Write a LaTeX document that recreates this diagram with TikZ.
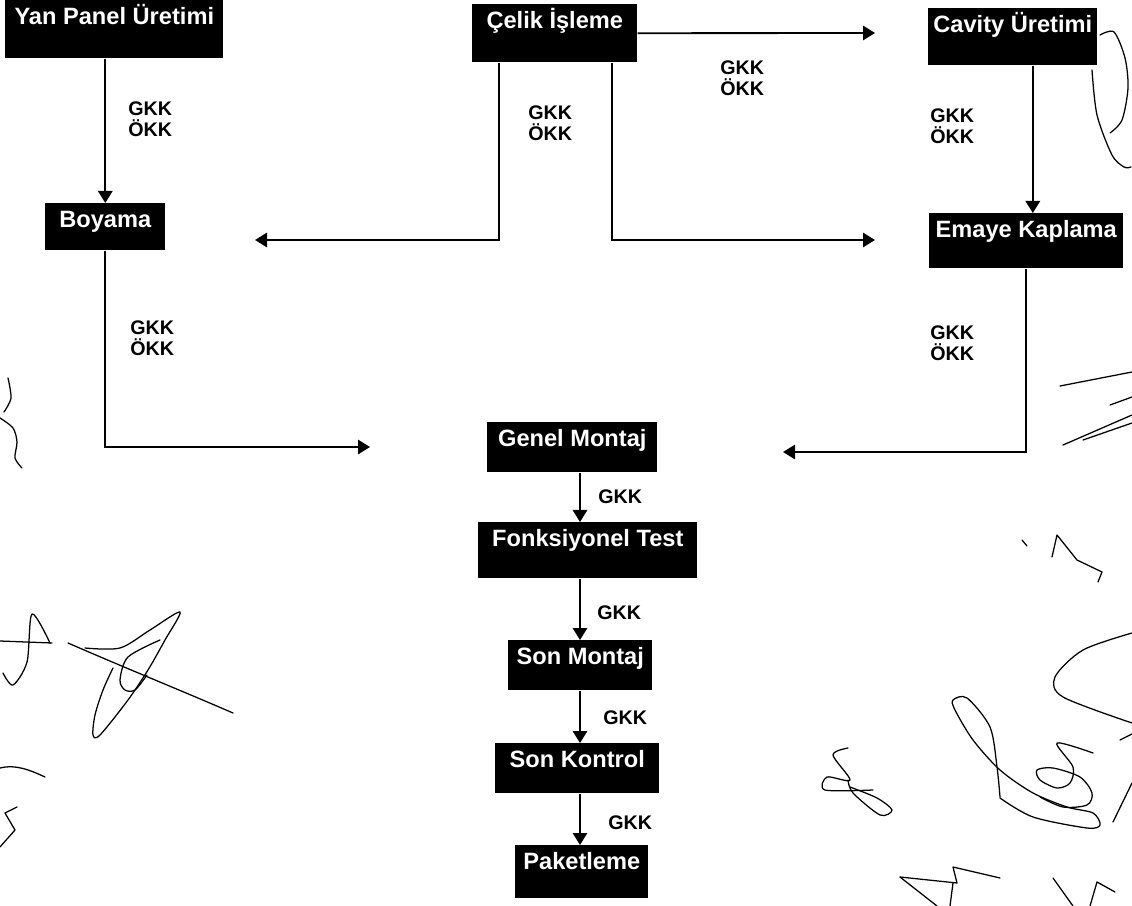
\documentclass[tikz,border=0pt]{standalone}
\usepackage{fontspec}
\setmainfont{Liberation Sans}
\usetikzlibrary{arrows.meta}

\begin{document}
\begin{tikzpicture}[
  x=0.025cm, y=-0.025cm,
  block/.style={rectangle, fill=black, text=white, anchor=north west, inner xsep=0pt, inner ysep=0pt, text height=0.6cm, font=\bfseries\fontsize{16.8}{18}\selectfont},
  lbl/.style={anchor=north west, inner sep=0pt, align=left, font=\bfseries\fontsize{14}{15.6}\selectfont},
  arrow/.style={line width=1.3pt, -{Triangle[length=0.3cm,width=0.36cm]}},
  sign/.style={line width=0.9pt, line cap=round, line join=round}
]
\useasboundingbox (0,0) rectangle (1132,906);

% Blocks
\node[block, minimum width=5.45cm, text depth=0.85cm] (yanpanel) at (5,0) {Yan Panel Üretimi};
\node[block, minimum width=3cm, text depth=0.575cm] (boyama) at (45,203) {Boyama};
\node[block, minimum width=4.125cm, text depth=0.85cm] (celik) at (472,4) {Çelik İşleme};
\node[block, minimum width=4.225cm, text depth=0.825cm] (cavity) at (928,8) {Cavity Üretimi};
\node[block, minimum width=4.85cm, text depth=0.775cm] (emaye) at (929,213) {Emaye Kaplama};
\node[block, minimum width=4.25cm, text depth=0.65cm] (genel) at (487,422) {Genel Montaj};
\node[block, minimum width=5.475cm, text depth=0.8cm] (fonksiyonel) at (478,522) {Fonksiyonel Test};
\node[block, minimum width=3.6cm, text depth=0.65cm] (sonmontaj) at (508,640) {Son Montaj};
\node[block, minimum width=4.1cm, text depth=0.65cm] (sonkontrol) at (495,743) {Son Kontrol};
\node[block, minimum width=3.325cm, text depth=0.725cm] (paketleme) at (515,845) {Paketleme};

% Free arrow ends
\coordinate (boyama-in) at (255,240);
\coordinate (emaye-in) at (875,240);
\coordinate (cavity-in) at (875,33);
\coordinate (genel-left) at (370,447);
\coordinate (genel-right) at (783,452);
\coordinate (axis) at (580,0);

% Arrows
\draw[arrow] (yanpanel.south -| boyama) -- (boyama);
\draw[arrow] (celik) -- (cavity-in);
\draw[arrow] ([xshift=0.675cm]celik.south west) |- (boyama-in);
\draw[arrow] ([xshift=-0.65cm]celik.south east) |- (emaye-in);
\draw[arrow] ([xshift=0.5cm]cavity.south) -- ([xshift=0.5cm]cavity.south |- emaye.north);
\draw[arrow] (boyama.south) |- (genel-left);
\draw[arrow] (emaye.south) |- (genel-right);
\draw[arrow] (genel.south -| axis) -- (fonksiyonel.north -| axis);
\draw[arrow] (fonksiyonel.south -| axis) -- (sonmontaj.north -| axis);
\draw[arrow] (sonmontaj.south -| axis) -- (sonkontrol.north -| axis);
\draw[arrow] (sonkontrol.south -| axis) -- (paketleme.north -| axis);

% Control labels
\node[lbl] (kontrol1) at (128,101) {GKK\\ÖKK};
\node[lbl] (kontrol2) at (528,105) {GKK\\ÖKK};
\node[lbl] (kontrol3) at (720,60) {GKK\\ÖKK};
\node[lbl] (kontrol4) at (930,108) {GKK\\ÖKK};
\node[lbl] (kontrol5) at (130,320) {GKK\\ÖKK};
\node[lbl] (kontrol6) at (930,325) {GKK\\ÖKK};
\node[lbl] (kontrol7) at (598,489) {GKK};
\node[lbl] (kontrol8) at (597,605) {GKK};
\node[lbl] (kontrol9) at (603,710) {GKK};
\node[lbl] (kontrol10) at (608,815) {GKK};

% Signatures
\draw[sign] plot[smooth] coordinates {(1100,35) (1114,32) (1125,58) (1128,88) (1122,120) (1110,133)};
\draw[sign] plot[smooth] coordinates {(1092,70) (1097,115) (1112,155) (1124,167) (1131,167)};
\draw[sign] plot[smooth] coordinates {(8,378) (11,398) (4,412)};
\draw[sign] plot[smooth] coordinates {(0,418) (13,428) (17,442) (15,458) (22,468)};
\draw[sign] (0,641) -- (52,643);
\draw[sign] plot[smooth] coordinates {(3,673) (13,685) (27,662) (32,614) (50,643)};
\draw[sign] (68,643) .. controls (130,670) and (180,690) .. (233,713);
\draw[sign] plot[smooth] coordinates {(85,648) (120,648) (150,630) (180,612) (165,640) (148,670) (128,700) (100,735) (93,735) (95,715) (103,690) (113,668)};
\draw[sign] plot[smooth] coordinates {(160,640) (128,657) (120,680) (125,690) (135,690) (147,675)};
\draw[sign] (0,768) .. controls (15,764) and (30,770) .. (45,777);
\draw[sign] plot coordinates {(17,807) (5,813) (15,830) (0,847)};
\draw[sign] (1022,540) -- (1027,546);
\draw[sign] plot coordinates {(1052,557) (1057,535) (1077,560) (1102,572) (1098,582)};
\draw[sign] plot[smooth] coordinates {(1132,633) (1083,650) (1055,677) (1063,697) (1132,723)};
\draw[sign] (1120,740) -- (1132,734);
\draw[sign] (1113,822) -- (1132,783);
\draw[sign] plot[smooth] coordinates {(848,748) (833,755) (850,780) (827,777) (825,790) (873,790)};
\draw[sign] plot[smooth] coordinates {(850,787) (877,798) (892,810) (880,815) (853,793) (848,780)};
\draw[sign] plot[smooth] coordinates {(1000,797) (997,767) (990,727) (967,698) (953,700) (955,710) (973,740) (1000,770) (1033,793) (1067,807) (1093,813) (1100,825) (1087,828) (1033,817) (1000,798)};
\draw[sign] plot[smooth] coordinates {(1093,753) (1057,743) (1073,767) (1070,783) (1057,788) (1040,780) (1037,770) (1053,768) (1080,777) (1092,793) (1087,805) (1063,807) (1040,797)};
\draw[sign] plot coordinates {(900,877) (957,883) (953,867) (1000,878)};
\draw[sign] (953,883) -- (950,906);
\draw[sign] (900,877) -- (937,906);
\draw[sign] (1053,878) -- (1073,906);
\draw[sign] plot coordinates {(1090,906) (1097,882) (1115,892)};
\draw[sign] (1060,386) -- (1132,372);
\draw[sign] (1063,445) -- (1132,415);
\draw[sign] (1083,440) -- (1132,423);
\draw[sign] (1110,405) -- (1132,397);

\end{tikzpicture}
\end{document}
